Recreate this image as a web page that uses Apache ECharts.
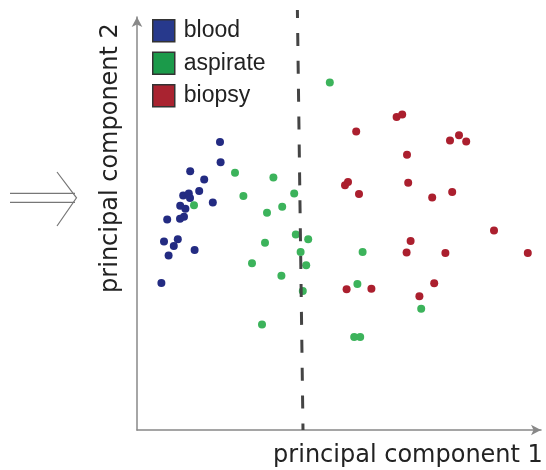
<!DOCTYPE html>
<html>
<head>
<meta charset="utf-8">
<script src="https://cdn.jsdelivr.net/npm/echarts@6/dist/echarts.min.js"></script>
<style>
  html, body { margin: 0; padding: 0; background: #fff; }
  #chart { width: 546px; height: 470px; }
</style>
</head>
<body>
<div id="chart"></div>
<script>
// samples projected on the first two principal components
var blood = [
  [20.75, 72.0], [20.9, 66.95], [13.3, 64.7], [16.8, 62.6], [15.55, 59.75],
  [11.55, 58.6], [12.95, 59.1], [13.25, 58.0], [18.95, 56.9], [10.8, 56.05],
  [12.1, 55.3], [7.55, 52.6], [11.75, 53.3], [10.75, 52.8], [6.75, 47.1],
  [10.2, 47.7], [9.2, 46.0], [14.4, 45.0], [7.9, 43.6], [6.1, 36.75]
]
var aspirate = [
  [14.25, 56.2], [24.5, 64.3], [26.6, 58.5], [34.1, 63.1], [39.3, 59.1],
  [36.3, 55.8], [32.5, 54.3], [39.7, 48.9], [42.8, 47.7], [32.0, 46.8],
  [40.9, 44.5], [42.3, 41.2], [28.75, 41.7], [36.1, 38.55], [41.45, 34.75],
  [48.2, 86.9], [56.4, 44.5], [55.1, 36.5], [71.05, 30.3], [31.25, 26.4],
  [54.3, 23.25], [55.8, 23.25]
]
var biopsy = [
  [64.9, 78.25], [66.3, 78.9], [54.8, 74.6], [78.25, 72.4], [80.5, 73.7],
  [82.3, 72.1], [67.5, 68.8], [52.0, 61.2], [52.75, 62.0], [67.8, 61.8],
  [55.5, 59.0], [73.8, 58.1], [78.8, 59.5], [89.25, 49.9], [68.4, 47.25],
  [67.4, 44.4], [77.1, 44.25], [97.7, 44.25], [74.3, 36.7], [52.4, 35.2],
  [58.6, 35.3], [70.6, 33.45]
]
// dashed separating line
var boundary = [[40.1, 105], [41.5, 0]]
var groups = ['blood', 'aspirate', 'biopsy']

var chart = echarts.init(document.getElementById('chart'))

var axisLine = {
  show: true,
  symbol: ['none', 'arrow'],
  symbolSize: [8, 10],
  lineStyle: { color: '#888', width: 1.5 }
}

var option = {
  animation: false,
  grid: { left: 137, right: 5, top: 17, bottom: 40 },
  legend: {
    orient: 'vertical',
    left: 152,
    top: 19,
    padding: 0,
    itemWidth: 22,
    itemHeight: 22,
    itemGap: 9,
    icon: 'rect',
    textStyle: {
      fontFamily: 'Liberation Sans',
      fontSize: 23,
      color: '#222',
      lineHeight: 23,
      padding: [0, 0, 0, 4]
    },
    data: [
      { name: groups[0], itemStyle: { color: '#27398c', borderColor: '#333', borderWidth: 1.5 } },
      { name: groups[1], itemStyle: { color: '#1b9a4a', borderColor: '#333', borderWidth: 1.5 } },
      { name: groups[2], itemStyle: { color: '#a92330', borderColor: '#333', borderWidth: 1.5 } }
    ]
  },
  xAxis: {
    type: 'value',
    min: 0,
    max: 101,
    axisLine: axisLine,
    axisTick: { show: false },
    axisLabel: { show: false },
    splitLine: { show: false }
  },
  yAxis: {
    type: 'value',
    min: 0,
    max: 103.25,
    axisLine: axisLine,
    axisTick: { show: false },
    axisLabel: { show: false },
    splitLine: { show: false }
  },
  series: [
    {
      type: 'line',
      data: boundary,
      clip: false,
      symbol: 'none',
      silent: true,
      lineStyle: { color: '#444', width: 3, type: [13, 14.9], dashOffset: 5 }
    },
    {
      name: groups[0], type: 'scatter', data: blood, symbolSize: 8,
      itemStyle: { color: '#232b82', opacity: 1 }
    },
    {
      name: groups[1], type: 'scatter', data: aspirate, symbolSize: 8,
      itemStyle: { color: '#3cb35b', opacity: 1 }
    },
    {
      name: groups[2], type: 'scatter', data: biopsy, symbolSize: 8,
      itemStyle: { color: '#ab1f2e', opacity: 1 }
    }
  ],
  graphic: [
    {
      type: 'text',
      x: 111, y: 158,
      rotation: Math.PI / 2,
      style: {
        text: 'principal component 2',
        fontFamily: 'DejaVu Sans',
        fontSize: 24,
        fill: '#222',
        align: 'center',
        verticalAlign: 'middle'
      }
    },
    {
      type: 'text',
      x: 408, y: 456,
      style: {
        text: 'principal component 1',
        fontFamily: 'DejaVu Sans',
        fontSize: 24,
        fill: '#222',
        align: 'center',
        verticalAlign: 'middle'
      }
    },
    // double arrow on the left
    { type: 'line', shape: { x1: 10, y1: 193.3, x2: 75, y2: 193.3 }, style: { stroke: '#777', lineWidth: 1.2 } },
    { type: 'line', shape: { x1: 10, y1: 202.3, x2: 75, y2: 202.3 }, style: { stroke: '#777', lineWidth: 1.2 } },
    {
      type: 'polyline',
      shape: { points: [[57, 172], [76.5, 197.8], [57, 226]] },
      style: { stroke: '#777', lineWidth: 1.2, fill: null }
    }
  ]
}

chart.setOption(option)
</script>
</body>
</html>
